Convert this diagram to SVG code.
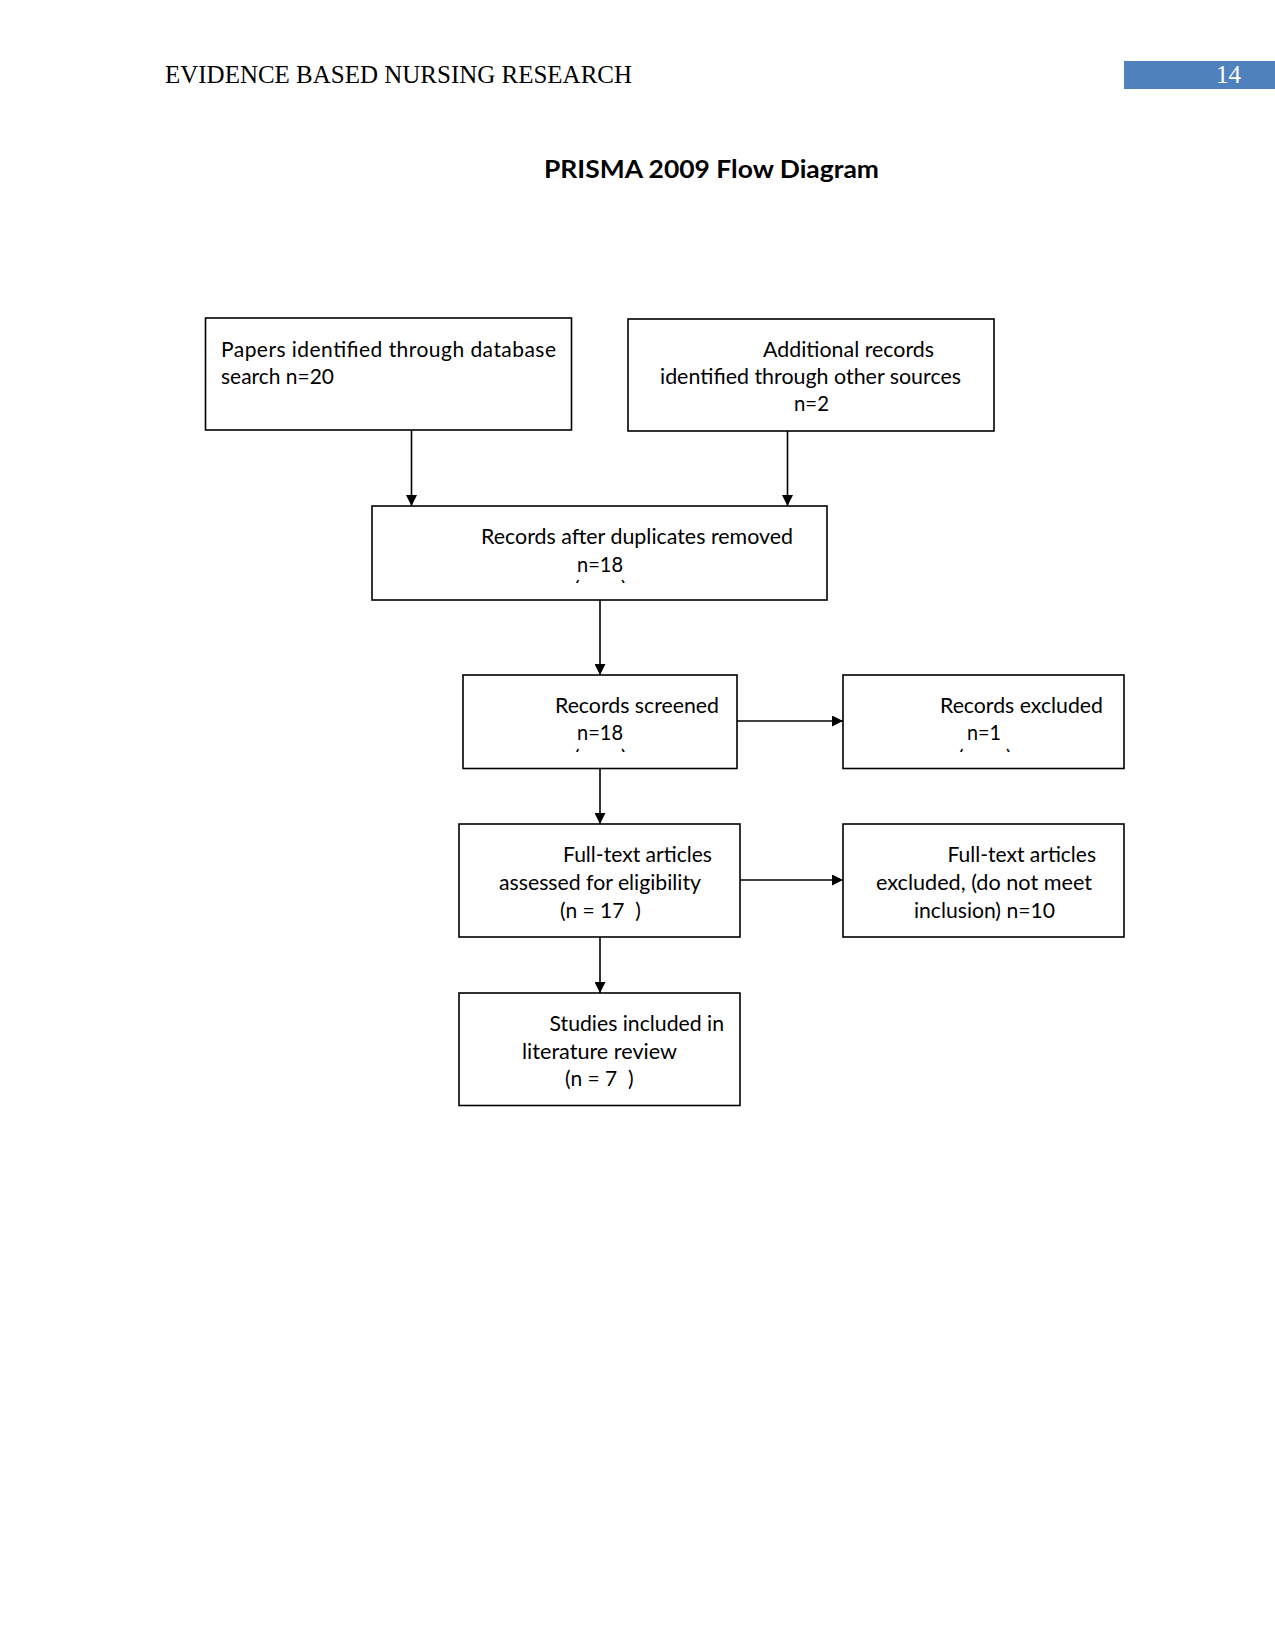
<svg xmlns="http://www.w3.org/2000/svg" width="1275" height="1651" viewBox="0 0 1275 1651">
<style>
.box{fill:#fff;stroke:#000;stroke-width:1.6}
.t{font-family:Lato,"Liberation Sans",sans-serif;font-size:21px;fill:#000}
.hd{font-family:"Liberation Serif",serif;font-size:25px}
.con{stroke:#000;stroke-width:1.6;fill:none;marker-end:url(#ah)}
</style>
<defs>
<marker id="ah" viewBox="0 0 10 10" refX="10" refY="5" markerWidth="11" markerHeight="11" markerUnits="userSpaceOnUse" orient="auto">
<path d="M0,0 L10,5 L0,10 z" fill="#000"/>
</marker>
<clipPath id="c3"><rect x="560" y="578" width="80" height="5"/></clipPath>
<clipPath id="c4"><rect x="560" y="747" width="80" height="5"/></clipPath>
<clipPath id="c5"><rect x="945" y="747" width="80" height="5"/></clipPath>
</defs>
<rect width="1275" height="1651" fill="#fff"/>
<g id="header">
<text class="hd" x="165" y="83" textLength="467" lengthAdjust="spacingAndGlyphs">EVIDENCE BASED NURSING RESEARCH</text>
<rect x="1124" y="61" width="151" height="28" fill="#4f81bd"/>
<text class="hd" x="1216" y="83" fill="#fff">14</text>
</g>
<text x="544" y="178" font-family="Lato,'Liberation Sans',sans-serif" font-weight="bold" font-size="25" textLength="335" lengthAdjust="spacingAndGlyphs">PRISMA 2009 Flow Diagram</text>
<g id="connectors">
<path class="con" d="M411.5,430 V506"/>
<path class="con" d="M787.5,431 V506"/>
<path class="con" d="M600,600 V675"/>
<path class="con" d="M737,721 H843"/>
<path class="con" d="M600,768.5 V824"/>
<path class="con" d="M740,880 H843"/>
<path class="con" d="M600,937 V993"/>
</g>
<g id="n1">
<rect class="box" x="205.5" y="318" width="366" height="112"/>
<text class="t" x="221" y="356.5" textLength="335" lengthAdjust="spacing">Papers identified through database</text>
<text class="t" x="221" y="383.5" textLength="113" lengthAdjust="spacingAndGlyphs">search n=20</text>
</g>
<g id="n2">
<rect class="box" x="628" y="319" width="366" height="112" stroke-width="2.2"/>
<text class="t" x="763" y="356.5" textLength="171" lengthAdjust="spacingAndGlyphs">Additional records</text>
<text class="t" x="660" y="383.5" textLength="301" lengthAdjust="spacingAndGlyphs">identified through other sources</text>
<text class="t" x="794" y="411" textLength="35" lengthAdjust="spacingAndGlyphs">n=2</text>
</g>
<g id="n3">
<rect class="box" x="372" y="506" width="455" height="94"/>
<text class="t" x="481" y="543.5" textLength="312" lengthAdjust="spacingAndGlyphs">Records after duplicates removed</text>
<text class="t" x="577" y="571.5" textLength="46" lengthAdjust="spacingAndGlyphs">n=18</text>
<text class="t" x="574" y="596" clip-path="url(#c3)">(</text>
<text class="t" x="621" y="596" clip-path="url(#c3)">)</text>
</g>
<g id="n4">
<rect class="box" x="463" y="675" width="274" height="93.5"/>
<text class="t" x="555" y="712.5" textLength="164" lengthAdjust="spacingAndGlyphs">Records screened</text>
<text class="t" x="577" y="739.5" textLength="46" lengthAdjust="spacingAndGlyphs">n=18</text>
<text class="t" x="574" y="765" clip-path="url(#c4)">(</text>
<text class="t" x="621" y="765" clip-path="url(#c4)">)</text>
</g>
<g id="n5">
<rect class="box" x="843" y="675" width="281" height="93.5"/>
<text class="t" x="940" y="712.5" textLength="163" lengthAdjust="spacingAndGlyphs">Records excluded</text>
<text class="t" x="967" y="739.5" textLength="34" lengthAdjust="spacingAndGlyphs">n=1</text>
<text class="t" x="958" y="765" clip-path="url(#c5)">(</text>
<text class="t" x="1006" y="765" clip-path="url(#c5)">)</text>
</g>
<g id="n6">
<rect class="box" x="459" y="824" width="281" height="113"/>
<text class="t" x="563" y="861.5" textLength="149" lengthAdjust="spacingAndGlyphs">Full-text articles</text>
<text class="t" x="499" y="890" textLength="202" lengthAdjust="spacingAndGlyphs">assessed for eligibility</text>
<text class="t" x="560" y="917.5" xml:space="preserve">(n = 17  )</text>
</g>
<g id="n7">
<rect class="box" x="843" y="824" width="281" height="113"/>
<text class="t" x="947.5" y="861.5" textLength="148.5" lengthAdjust="spacingAndGlyphs">Full-text articles</text>
<text class="t" x="876" y="890" textLength="216" lengthAdjust="spacingAndGlyphs">excluded, (do not meet</text>
<text class="t" x="914" y="917.5" textLength="141" lengthAdjust="spacingAndGlyphs">inclusion) n=10</text>
</g>
<g id="n8">
<rect class="box" x="459" y="993" width="281" height="112.5"/>
<text class="t" x="549.5" y="1030.5" textLength="174.5" lengthAdjust="spacingAndGlyphs">Studies included in</text>
<text class="t" x="522" y="1058.5" textLength="155" lengthAdjust="spacingAndGlyphs">literature review</text>
<text class="t" x="565" y="1086" xml:space="preserve">(n = 7  )</text>
</g>
</svg>
